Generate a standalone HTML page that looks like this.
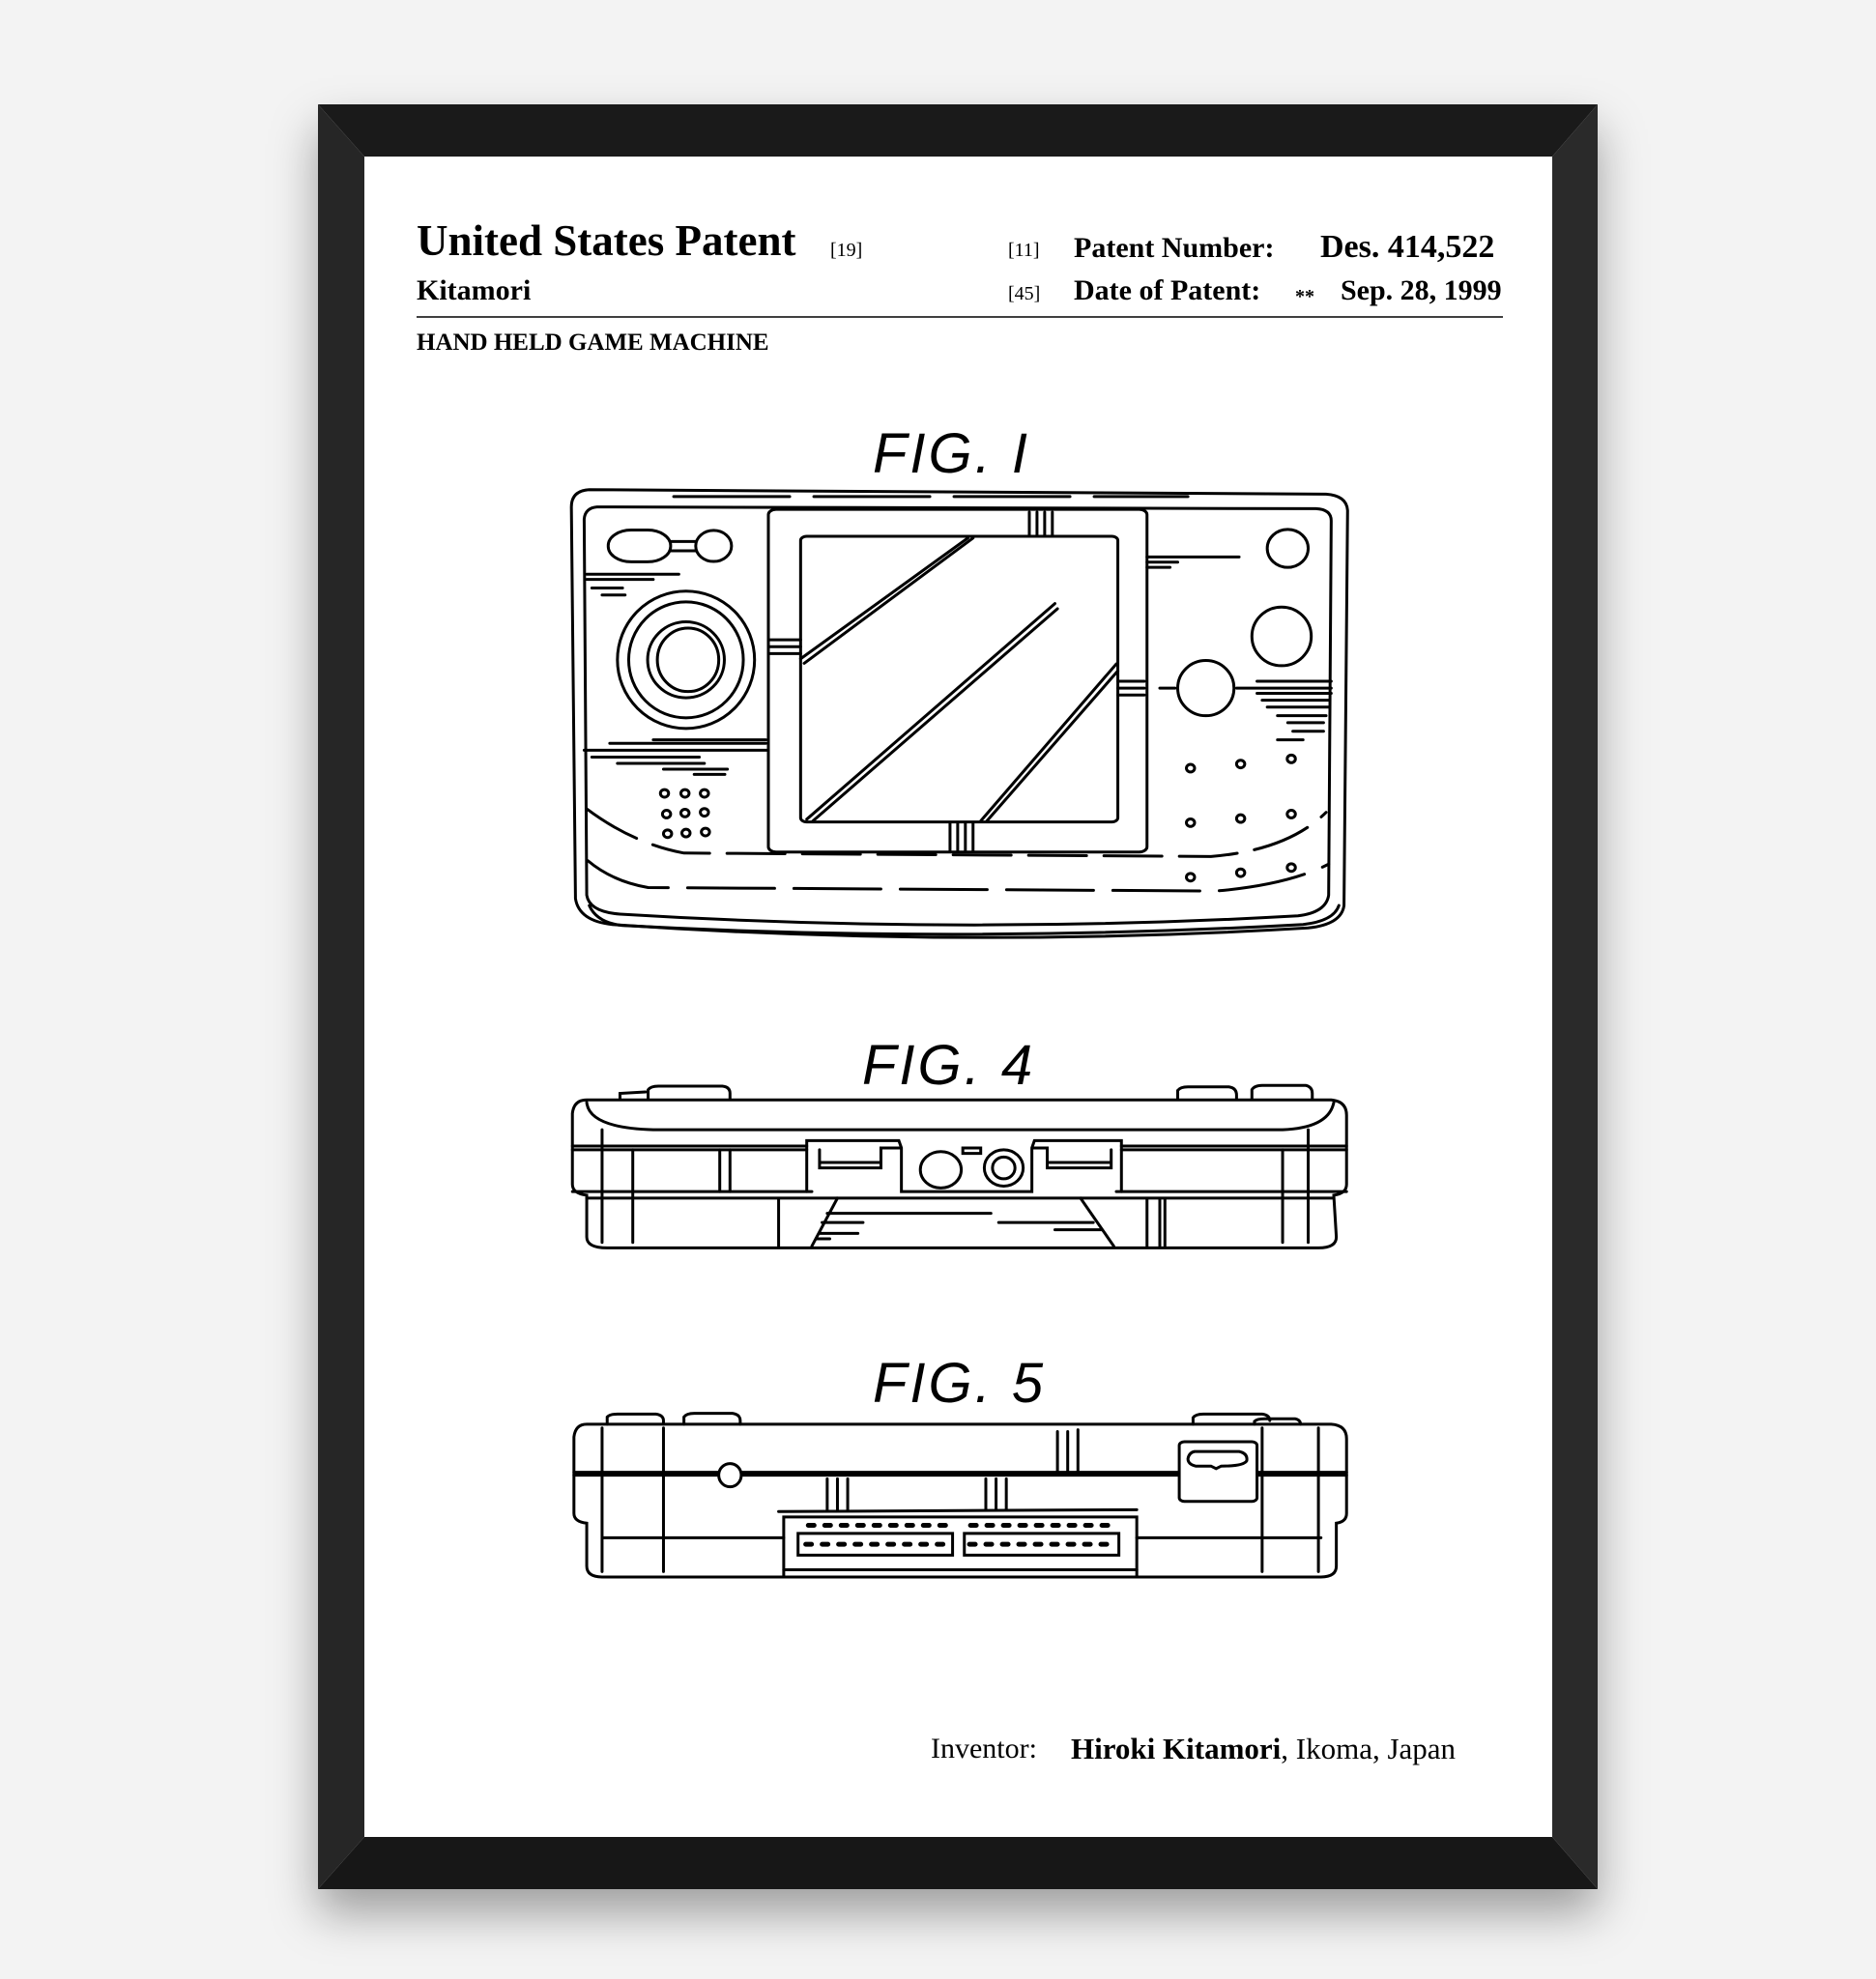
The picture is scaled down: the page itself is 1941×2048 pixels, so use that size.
<!DOCTYPE html>
<html><head><meta charset="utf-8"><style>
html,body{margin:0;padding:0;width:1941px;height:2048px;overflow:hidden;background:#f3f3f3;}
.t{position:absolute;font-family:"Liberation Serif",serif;color:#000;white-space:nowrap;line-height:1;}
.b{font-weight:bold;}
</style></head><body>
<div style="position:absolute;left:329px;top:108px;width:1324px;height:1847px;box-shadow:0 25px 45px rgba(0,0,0,0.35);"></div>
<svg style="position:absolute;left:0;top:0" width="1941" height="2048">
<polygon points="329,108 1653,108 1606,162 377,162" fill="#1a1a1a"/>
<polygon points="329,1955 1653,1955 1606,1901 377,1901" fill="#171717"/>
<polygon points="329,108 377,162 377,1901 329,1955" fill="#262626"/>
<polygon points="1653,108 1606,162 1606,1901 1653,1955" fill="#2a2a2a"/>
<rect x="377" y="162" width="1229" height="1739" fill="#fff"/>
<line x1="431" y1="328" x2="1555" y2="328" stroke="#000" stroke-width="1.6"/>
<g font-family="Liberation Sans, sans-serif" font-size="58" font-style="italic" fill="#000" letter-spacing="3">
<text x="903" y="489">FIG. I</text>
<text x="892" y="1122">FIG. 4</text>
<text x="903" y="1451">FIG. 5</text>
</g>
<!-- FIG 1 -->
<g transform="translate(570,430) scale(0.5294,0.3571)" fill="none" stroke="#000" stroke-width="3" stroke-linecap="round">
<path vector-effect="non-scaling-stroke" d="M75,215 L1515,228 Q1555,232 1557,275 L1550,1420 Q1545,1475 1480,1485 Q800,1545 120,1475 Q55,1465 48,1400 L40,265 Q40,218 75,215 Z"/>
<path vector-effect="non-scaling-stroke" d="M90,265 L1495,270 Q1525,272 1525,305 L1520,1390 Q1515,1440 1460,1450 Q800,1505 135,1445 Q75,1438 70,1390 L65,300 Q67,268 90,265 Z"/>
<path vector-effect="non-scaling-stroke" d="M75,1420 Q90,1470 140,1478 Q800,1530 1470,1475 Q1530,1465 1540,1420"/>
<rect vector-effect="non-scaling-stroke" x="425" y="272" width="740" height="993" rx="15"/>
<rect vector-effect="non-scaling-stroke" x="488" y="350" width="620" height="828" rx="12"/>
<path vector-effect="non-scaling-stroke" d="M488,705 L815,355 M495,718 L825,355 M500,1170 L985,545 M512,1175 L990,560 M840,1175 L1105,720 M852,1175 L1108,740"/>
<path vector-effect="non-scaling-stroke" d="M935,280 L935,350 M950,280 L950,350 M965,280 L965,350 M980,280 L980,350 M780,1180 L780,1262 M795,1180 L795,1262 M810,1180 L810,1262 M825,1180 L825,1262"/>
<ellipse vector-effect="non-scaling-stroke" cx="264" cy="708" rx="134" ry="199"/>
<ellipse vector-effect="non-scaling-stroke" cx="264" cy="708" rx="112" ry="168"/>
<ellipse vector-effect="non-scaling-stroke" cx="264" cy="708" rx="75" ry="110"/>
<ellipse vector-effect="non-scaling-stroke" cx="268" cy="708" rx="60" ry="92"/>
<rect vector-effect="non-scaling-stroke" x="112" y="332" width="122" height="92" rx="45"/>
<ellipse vector-effect="non-scaling-stroke" cx="318" cy="378" rx="35" ry="45"/>
<path vector-effect="non-scaling-stroke" d="M234,365 L283,365 M234,392 L283,392"/>
<ellipse vector-effect="non-scaling-stroke" cx="1440" cy="385" rx="40" ry="55"/>
<ellipse vector-effect="non-scaling-stroke" cx="1428" cy="640" rx="58" ry="85"/>
<ellipse vector-effect="non-scaling-stroke" cx="1280" cy="790" rx="55" ry="80"/>
<path vector-effect="non-scaling-stroke" d="M65,970 L425,970 M70,460 L250,460 M70,475 L200,475 M80,500 L140,500 M100,520 L145,520 M115,950 L420,950 M200,940 L420,940 M80,990 L290,990 M130,1008 L300,1008 M220,1025 L345,1025 M280,1040 L340,1040 M1165,410 L1345,410 M1165,425 L1225,425 M1165,440 L1210,440 M1190,790 L1220,790 M1340,790 L1525,790 M1380,770 L1525,770 M1380,805 L1525,805 M1390,825 L1520,825 M1400,845 L1520,845 M1420,870 L1515,870 M1440,890 L1510,890 M1450,915 L1510,915 M1420,940 L1470,940 M1108,770 L1160,770 M1108,790 L1160,790 M1108,810 L1160,810 M425,650 L488,650 M425,670 L488,670 M425,690 L488,690"/>
<path vector-effect="non-scaling-stroke" stroke-dasharray="60,18" d="M70,1140 Q160,1240 260,1268 L1290,1278 Q1440,1260 1515,1150"/>
<path vector-effect="non-scaling-stroke" stroke-dasharray="90,20" d="M72,1290 Q120,1350 190,1368 L1300,1378 Q1440,1360 1520,1300"/>
<path vector-effect="non-scaling-stroke" stroke-dasharray="120,25" d="M240,235 L1245,235"/>
<ellipse vector-effect="non-scaling-stroke" cx="1250" cy="1022" rx="8" ry="11"/><ellipse vector-effect="non-scaling-stroke" cx="1348" cy="1010" rx="8" ry="11"/><ellipse vector-effect="non-scaling-stroke" cx="1447" cy="995" rx="8" ry="11"/>
<ellipse vector-effect="non-scaling-stroke" cx="1250" cy="1180" rx="8" ry="11"/><ellipse vector-effect="non-scaling-stroke" cx="1348" cy="1168" rx="8" ry="11"/><ellipse vector-effect="non-scaling-stroke" cx="1447" cy="1155" rx="8" ry="11"/>
<ellipse vector-effect="non-scaling-stroke" cx="1250" cy="1338" rx="8" ry="11"/><ellipse vector-effect="non-scaling-stroke" cx="1348" cy="1325" rx="8" ry="11"/><ellipse vector-effect="non-scaling-stroke" cx="1447" cy="1310" rx="8" ry="11"/>
<ellipse vector-effect="non-scaling-stroke" cx="222" cy="1095" rx="8" ry="11"/><ellipse vector-effect="non-scaling-stroke" cx="262" cy="1095" rx="8" ry="11"/><ellipse vector-effect="non-scaling-stroke" cx="300" cy="1095" rx="8" ry="11"/>
<ellipse vector-effect="non-scaling-stroke" cx="226" cy="1155" rx="8" ry="11"/><ellipse vector-effect="non-scaling-stroke" cx="262" cy="1152" rx="8" ry="11"/><ellipse vector-effect="non-scaling-stroke" cx="300" cy="1150" rx="8" ry="11"/>
<ellipse vector-effect="non-scaling-stroke" cx="228" cy="1212" rx="8" ry="11"/><ellipse vector-effect="non-scaling-stroke" cx="264" cy="1210" rx="8" ry="11"/><ellipse vector-effect="non-scaling-stroke" cx="302" cy="1207" rx="8" ry="11"/>
</g>
<!-- FIG 4 and 5 -->
<g transform="translate(570,1060) scale(0.5294,0.3763)" fill="none" stroke="#000" stroke-width="3" stroke-linecap="round">
<path vector-effect="non-scaling-stroke" d="M190,205 L190,180 Q195,170 210,170 L335,170 Q350,172 350,190 L350,205 M1225,205 L1225,182 Q1230,172 1245,172 L1325,172 Q1340,175 1340,195 L1340,205 M1370,205 L1370,180 Q1375,168 1390,168 L1475,168 Q1488,172 1488,190 L1488,205 M135,205 L135,190 L185,186"/>
<path vector-effect="non-scaling-stroke" d="M70,208 L1525,208 Q1555,212 1555,250 L1555,440 Q1555,465 1530,470 L1535,585 Q1535,615 1500,615 L110,615 Q70,615 70,585 L70,470 Q42,465 42,440 L42,245 Q45,208 70,208 Z"/>
<path vector-effect="non-scaling-stroke" d="M70,215 Q75,285 200,290 L1430,290 Q1520,285 1530,215 M42,335 L500,335 M1115,335 L1555,335 M42,345 L500,345 M1115,345 L1555,345 M42,460 L510,460 M1105,460 L1555,460 M70,478 L560,478 M1035,478 L1530,478"/>
<path vector-effect="non-scaling-stroke" d="M500,460 L500,320 L680,320 L685,340 L685,460 L940,460 L940,340 L945,320 L1115,320 L1115,460 M525,345 L525,395 L645,395 L645,340 L685,340 M940,340 L970,340 L970,395 L1095,395 L1095,345 M525,380 L645,380 M970,380 L1095,380 M805,340 L840,340 L840,355 L805,355 Z"/>
<ellipse vector-effect="non-scaling-stroke" cx="762" cy="400" rx="40" ry="50"/>
<ellipse vector-effect="non-scaling-stroke" cx="885" cy="395" rx="38" ry="50"/>
<ellipse vector-effect="non-scaling-stroke" cx="885" cy="395" rx="22" ry="30"/>
<path vector-effect="non-scaling-stroke" d="M510,610 L560,478 L1035,478 L1100,610 M540,520 L860,520 M530,545 L610,545 M525,575 L600,575 M520,590 L545,590 M875,545 L1060,545 M985,565 L1075,565 M100,290 L100,600 M160,345 L160,600 M1430,345 L1430,600 M1480,290 L1480,600 M330,345 L330,460 M350,345 L350,460 M445,480 L445,610 M1165,480 L1165,610 M1190,480 L1190,610 M1200,480 L1200,610"/>
<path vector-effect="non-scaling-stroke" d="M110,1100 L110,1080 Q115,1072 130,1072 L205,1072 Q220,1075 220,1090 L220,1100 M260,1100 L260,1080 Q265,1070 280,1070 L355,1070 Q370,1073 370,1090 L370,1100 M1255,1100 L1255,1082 Q1260,1072 1275,1072 L1390,1072 Q1405,1075 1405,1090 M1375,1100 L1375,1092 Q1380,1085 1395,1085 L1455,1085 Q1465,1088 1465,1100"/>
<path vector-effect="non-scaling-stroke" d="M70,1100 L1525,1100 Q1555,1103 1555,1140 L1555,1345 Q1555,1368 1535,1372 L1535,1490 Q1535,1520 1505,1520 L100,1520 Q70,1520 70,1490 L70,1372 Q45,1368 45,1345 L45,1135 Q48,1100 70,1100 Z"/>
<path vector-effect="non-scaling-stroke" d="M45,1232 L1555,1232 M45,1240 L1555,1240 M100,1412 L455,1412 M1145,1412 L1505,1412 M100,1110 L100,1505 M220,1110 L220,1505 M1390,1110 L1390,1505 M1500,1110 L1500,1505 M445,1340 L1145,1335"/>
<ellipse vector-effect="non-scaling-stroke" cx="350" cy="1240" rx="22" ry="32" fill="#fff"/>
<rect vector-effect="non-scaling-stroke" x="1228" y="1148" width="152" height="164" rx="10" fill="#fff"/>
<path vector-effect="non-scaling-stroke" d="M1258,1175 L1345,1175 Q1362,1180 1360,1200 Q1355,1215 1310,1215 L1300,1222 L1290,1215 L1260,1215 Q1245,1210 1245,1195 Q1247,1178 1258,1175 Z"/>
<path vector-effect="non-scaling-stroke" d="M455,1520 L455,1355 L1145,1355 L1145,1520"/>
<rect vector-effect="non-scaling-stroke" x="483" y="1400" width="302" height="60"/>
<rect vector-effect="non-scaling-stroke" x="808" y="1400" width="302" height="60"/>
<path vector-effect="non-scaling-stroke" stroke-width="5" stroke-dasharray="6,11" d="M503,1378 L775,1378 M820,1378 L1095,1378 M498,1430 L775,1430 M818,1430 L1100,1430"/>
<path vector-effect="non-scaling-stroke" d="M455,1500 L1145,1500 M990,1120 L990,1230 M1010,1120 L1010,1230 M1030,1115 L1030,1230 M540,1250 L540,1335 M560,1250 L560,1335 M580,1250 L580,1335 M850,1250 L850,1335 M870,1250 L870,1335 M890,1250 L890,1335"/>
</g>
</svg>
<div class="t b" style="left:431px;top:227px;font-size:45px;">United States Patent</div>
<div class="t" style="left:859px;top:249px;font-size:20px;">[19]</div>
<div class="t" style="left:1043px;top:249px;font-size:20px;">[11]</div>
<div class="t b" style="left:1111px;top:242px;font-size:30px;">Patent Number:</div>
<div class="t b" style="left:1366px;top:239px;font-size:34px;">Des. 414,522</div>
<div class="t b" style="left:431px;top:286px;font-size:30px;">Kitamori</div>
<div class="t" style="left:1043px;top:294px;font-size:20px;">[45]</div>
<div class="t b" style="left:1111px;top:286px;font-size:30px;">Date of Patent:</div>
<div class="t b" style="left:1340px;top:297px;font-size:20px;">**</div>
<div class="t b" style="left:1387px;top:286px;font-size:30px;">Sep. 28, 1999</div>
<div class="t b" style="left:431px;top:342px;font-size:25px;">HAND HELD GAME MACHINE</div>
<div class="t" style="left:963px;top:1795px;font-size:30px;">Inventor:</div>
<div class="t" style="left:1108px;top:1794px;font-size:31px;"><b>Hiroki Kitamori</b>, Ikoma, Japan</div>
</body></html>
